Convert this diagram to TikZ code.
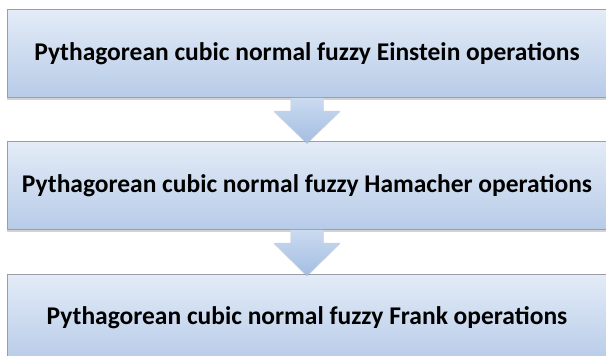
\documentclass[tikz,border=0pt]{standalone}
\usepackage{fontspec}
\setmainfont{Carlito}
\usetikzlibrary{shadows,calc}
\definecolor{boxtop}{HTML}{E3ECF7}
\definecolor{boxbot}{HTML}{B7CBE8}
\definecolor{arrtop}{HTML}{CBDBF0}
\definecolor{arrbot}{HTML}{A3BDE2}
\definecolor{edge}{HTML}{9A9FA6}
\tikzset{
  stage/.style={rectangle, minimum width=600pt, minimum height=88pt,
    top color=boxtop, bottom color=boxbot, draw=edge, line width=0.6pt,
    drop shadow={shadow xshift=0pt, shadow yshift=-2pt, opacity=0.35, fill=gray},
    font=\bfseries\fontsize{25.5}{30}\selectfont, text=black, inner sep=0pt},
  flow/.style={top color=arrtop, bottom color=arrbot, draw=none,
    drop shadow={shadow xshift=0pt, shadow yshift=-1pt, opacity=0.25, fill=gray}}
}
\begin{document}
\begin{tikzpicture}[x=1pt, y=-1pt]
  \useasboundingbox (0,0) rectangle (606,356);
  % the three stages
  \node[stage] (s1) at (307,53.5) {Pythagorean cubic normal fuzzy Einstein operations};
  \node[stage] (s2) at (307,185.5) {Pythagorean cubic normal fuzzy Hamacher operations};
  \node[stage] (s3) at (307,318) {Pythagorean cubic normal fuzzy Frank operations};
  % block arrows between the stages
  \foreach \a/\b in {s1/s2, s2/s3} {
    \path[flow] ($(\a.south)+(-16.5,0)$) -- ++(0,13) -- ++(-17,0)
      -- ($(\b.north)+(0,2)$) -- ($(\a.south)+(33.5,13)$)
      -- ++(-17,0) -- ($(\a.south)+(16.5,0)$) -- cycle;
  }
\end{tikzpicture}
\end{document}
